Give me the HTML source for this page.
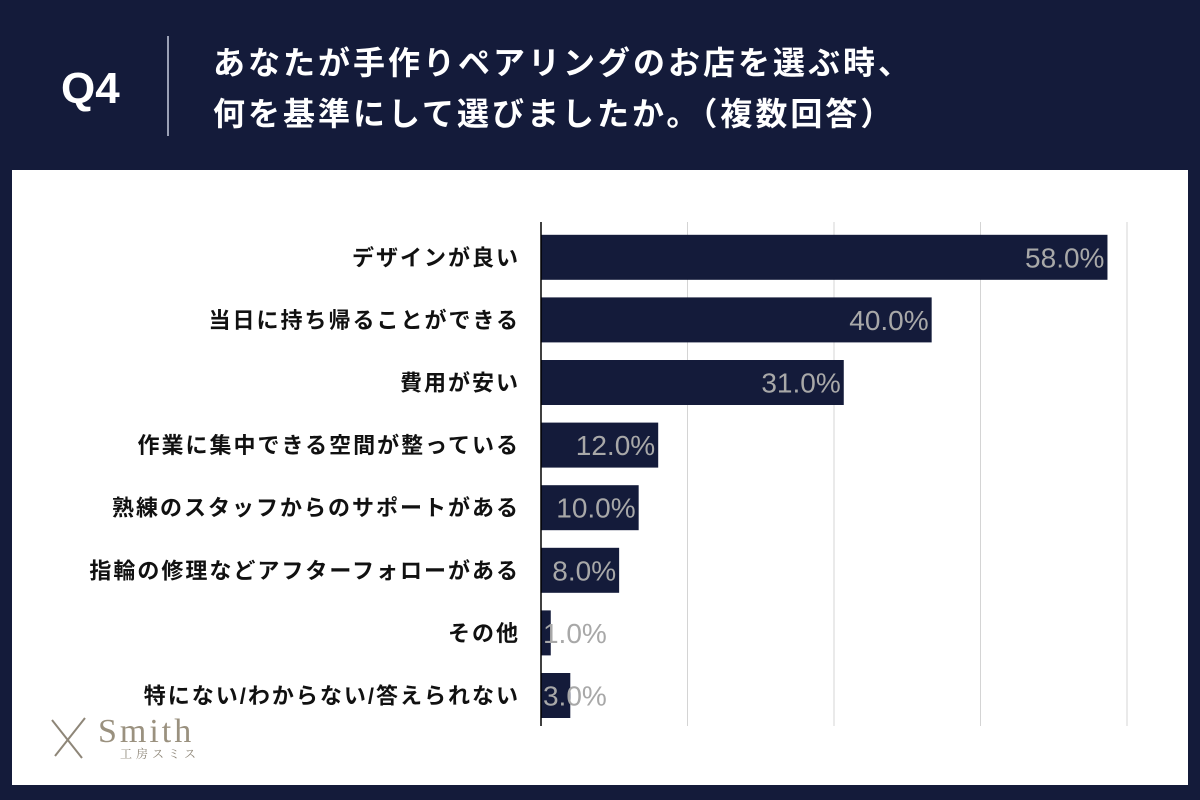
<!DOCTYPE html>
<html><head><meta charset="utf-8"><style>
body{margin:0;width:1200px;height:800px;background:#141b3a;overflow:hidden;font-family:"Liberation Sans","Noto Sans CJK JP",sans-serif;position:relative}
.abs{position:absolute}
</style></head><body>
<div class="abs" style="left:61px;top:64px;color:#fff;font-size:44px;font-weight:bold">Q4</div>
<div class="abs" style="left:167px;top:36px;width:2px;height:100px;background:#9aa0b5"></div>
<div class="abs" style="left:213px;top:38px;color:#fff;font-size:32px;letter-spacing:3px;font-weight:bold;line-height:51px;white-space:nowrap">あなたが手作りペアリングのお店を選ぶ時、<br>何を基準にして選びましたか。（複数回答）</div>
<div class="abs" style="left:12px;top:170px;width:1176px;height:615px;background:#fff"></div>
<svg class="abs" style="left:0;top:0" width="1200" height="800">
<g id="grid"></g><g id="bars"></g>
<line x1="541" y1="222" x2="541" y2="726" stroke="#000" stroke-width="1.5"/>
<g>
<line x1="52" y1="720" x2="82" y2="758" stroke="#8e8678" stroke-width="2"/>
<line x1="85" y1="718" x2="55" y2="756" stroke="#8e8678" stroke-width="2"/>
<text x="98" y="742" font-family="Liberation Serif,serif" font-size="34" fill="#9a917f" letter-spacing="3">Smith</text>
<text x="120" y="758" font-family="Noto Serif CJK SC,serif" font-size="12" fill="#8e8678" letter-spacing="4">工房スミス</text>
</g>
</svg>
<script>
const categories=["デザインが良い","当日に持ち帰ることができる","費用が安い","作業に集中できる空間が整っている","熟練のスタッフからのサポートがある","指輪の修理などアフターフォローがある","その他","特にない/わからない/答えられない"];
const values=[58.0,40.0,31.0,12.0,10.0,8.0,1.0,3.0];
const gridTicks=[15,30,45,60];
const x0=541,pxPer=(1127-541)/60,rowTop=226,rowH=62.6,barH=45;
const X=v=>x0+v*pxPer;
const NS="http://www.w3.org/2000/svg";
const grid=document.getElementById('grid'),bars=document.getElementById('bars');
function mk(t,a){const e=document.createElementNS(NS,t);for(const k in a)e.setAttribute(k,a[k]);return e;}
gridTicks.forEach(t=>{const l=mk('line',{x1:X(t),x2:X(t),y1:222,y2:726,stroke:'#d4d4d4','stroke-width':1});


grid.appendChild(l);});
categories.forEach((c,i)=>{
 const y=rowTop+i*rowH+(rowH-barH)/2;
 const r=mk('rect',{x:x0,y:y,width:X(values[i])-x0,height:barH,fill:'#141b3a'});
 
 
 bars.appendChild(r);
 const cy=y+barH/2+8;
 const lb=mk('text',{x:520,y:cy,'text-anchor':'end','font-size':22,'letter-spacing':2,'font-weight':'bold',fill:'#111'});
 lb.textContent=c;
 
 
 bars.appendChild(lb);
 const txt=values[i].toFixed(1)+'%';
 const w=txt.length*16.2;
 let ex=X(values[i])-3; if(ex-w<542) ex=542+w;
 const vl=mk('text',{x:ex,y:cy+2,'text-anchor':'end','font-size':28,fill:'#a8a8a8'});
 vl.textContent=txt;
 
 
 bars.appendChild(vl);
});
</script>
</body></html>
